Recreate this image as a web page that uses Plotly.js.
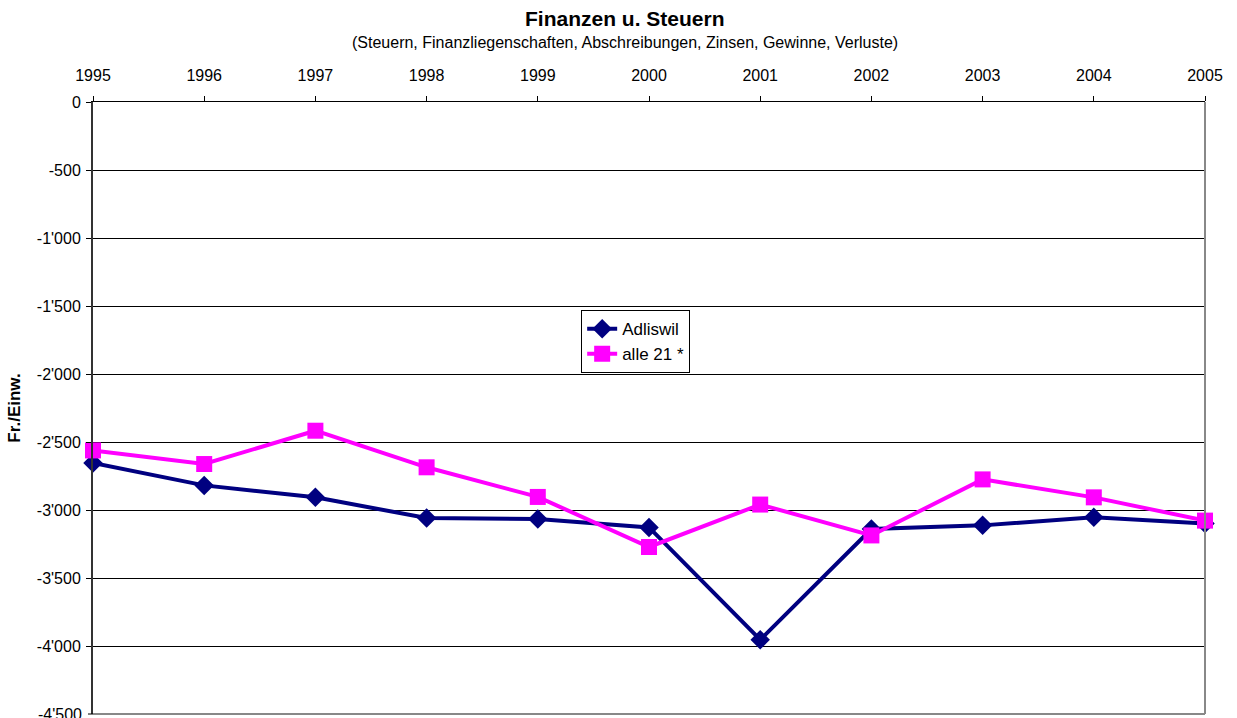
<!DOCTYPE html>
<html><head><meta charset="utf-8">
<script src="https://cdn.plot.ly/plotly-3.0.1.min.js"></script>
<style>html,body{margin:0;padding:0;background:#fff}#c{width:1237px;height:718px}</style>
</head><body><div id="c"></div>
<script>
const years = [1995,1996,1997,1998,1999,2000,2001,2002,2003,2004,2005];
const adliswil = [-2654,-2819,-2907,-3059,-3066,-3128,-3954,-3140,-3113,-3054,-3100];
const alle21 = [-2562,-2662,-2417,-2686,-2904,-3272,-2960,-3187,-2775,-2907,-3078];
const yTicks = [0,-500,-1000,-1500,-2000,-2500,-3000,-3500,-4000];
const yTickLabels = ['0','-500',"-1'000","-1'500","-2'000","-2'500","-3'000","-3'500","-4'000"];
const yBottomLabel = "-4'500";

const font = {family:'"Liberation Sans", Arial, sans-serif', color:'#000'};
const F = s => Object.assign({size:s}, font);
const traces = [
 {x:years, y:adliswil, name:'Adliswil', type:'scatter', mode:'lines+markers', cliponaxis:false,
  line:{color:'#000080', width:4}, marker:{symbol:'diamond', size:15, color:'#000080'}},
 {x:years, y:alle21, name:'alle 21 *', type:'scatter', mode:'lines+markers', cliponaxis:false,
  line:{color:'#FF00FF', width:4}, marker:{symbol:'square', size:16, color:'#FF00FF'}}
];
const layout = {
 width:1237, height:718, paper_bgcolor:'#fff', plot_bgcolor:'#fff',
 margin:{l:93, r:32, t:102, b:4},
 font:F(16),
 showlegend:true,
 legend:{x:0.439, y:0.66, xanchor:'left', yanchor:'top', bordercolor:'#000', borderwidth:1,
   bgcolor:'#fff', font:F(17), tracegroupgap:0},
 xaxis:{side:'top', range:[1995,2005], tickvals:years, ticktext:years.map(String),
   showgrid:false, zeroline:false, showline:true, linecolor:'#000', linewidth:1.5,
   ticks:'outside', ticklen:5, tickcolor:'#000', tickfont:F(16), ticklabelstandoff:8},
 yaxis:{range:[-4500,0], tickvals:yTicks, ticktext:yTickLabels, showgrid:true, gridcolor:'#000', gridwidth:1,
   zeroline:false, showline:true, linecolor:'#333', linewidth:2, ticks:'outside', ticklen:5, tickcolor:'#000',
   tickfont:F(16), ticklabelstandoff:2,
   title:{text:'<b>Fr./Einw.</b>', font:F(17), standoff:12}},
 shapes:[
  {type:'line', xref:'paper', yref:'paper', x0:1, x1:1, y0:0, y1:1, line:{color:'#888', width:2}},
  {type:'line', xref:'paper', yref:'paper', x0:0, x1:1, y0:0, y1:0, line:{color:'#888', width:2}},
  {type:'line', xref:'paper', yref:'paper', x0:-0.0045, x1:0, y0:0, y1:0, line:{color:'#000', width:1}}
 ],
 annotations:[
  {text:'<b>Finanzen u. Steuern</b>', xref:'paper', yref:'paper', x:0.478, y:1, yshift:84, xanchor:'center', yanchor:'middle', showarrow:false, font:F(21)},
  {text:'(Steuern, Finanzliegenschaften, Abschreibungen, Zinsen, Gewinne, Verluste)', xref:'paper', yref:'paper', x:0.478, y:1, yshift:60, xanchor:'center', yanchor:'middle', showarrow:false, font:F(16)},
  {text:yBottomLabel, xref:'paper', yref:'y', x:0, y:-4500, xanchor:'right', yanchor:'middle', xshift:-9, showarrow:false, font:F(16)}
 ]
};
Plotly.newPlot('c', traces, layout, {displayModeBar:false, staticPlot:true});
</script></body></html>
